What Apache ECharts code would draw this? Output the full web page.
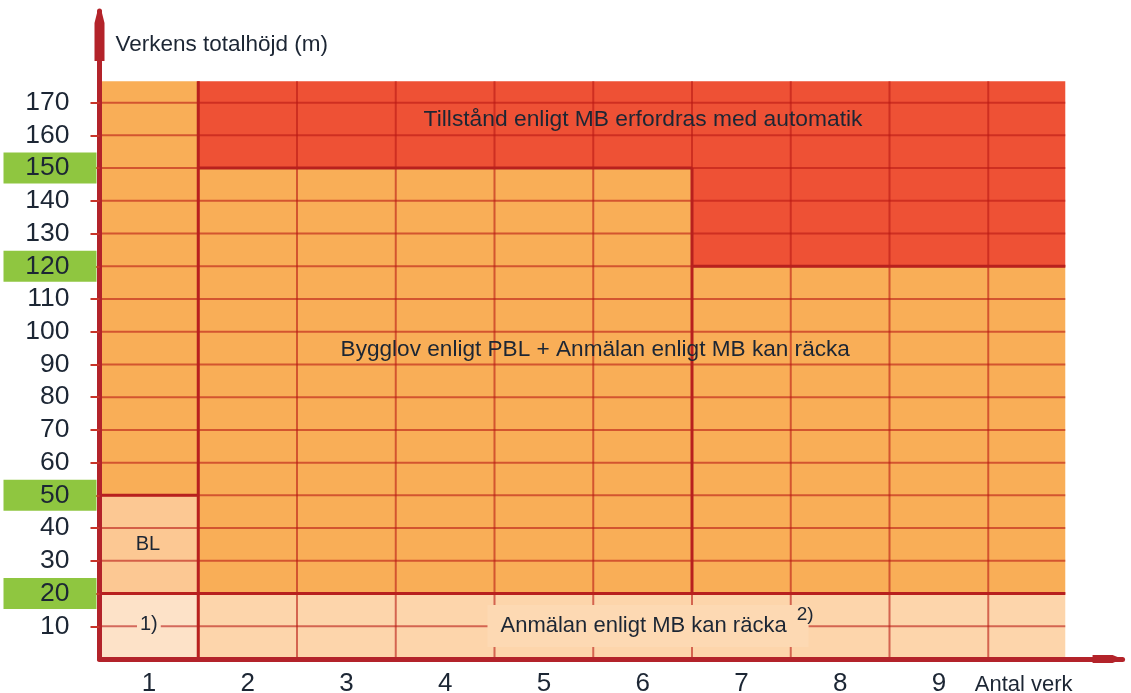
<!DOCTYPE html>
<html><head><meta charset="utf-8">
<script src="https://cdn.jsdelivr.net/npm/echarts@6/dist/echarts.min.js"></script>
<style>html,body{margin:0;padding:0;background:#fff}#c{width:1131px;height:693px}</style>
</head><body><div id="c"></div>
<script>
// ---- data ----
const columnLabels = ['1', '2', '3', '4', '5', '6', '7', '8', '9'];
const columnCenters = [0.5, 1.5, 2.5, 3.5, 4.5, 5.5, 6.5, 7.5, 8.5];
const columnEdges = [1, 2, 3, 4, 5, 6, 7, 8, 9];
const heightTicks = [10, 20, 30, 40, 50, 60, 70, 80, 90, 100, 110, 120, 130, 140, 150, 160, 170];
const highlightedHeights = [20, 50, 120, 150];
const lastColumnEnd = 9.78;
const topHeight = 176.5;

// zones (rectangles in chart units)
const zoneNames = ['Anmälan (1 verk)', 'Anmälan', 'BL', 'Bygglov (1 verk)', 'Bygglov 2-6', 'Bygglov 7+', 'Tillstånd 2-6', 'Tillstånd 7+'];
const zoneX0 = [0, 1, 0, 0, 1, 6, 1, 6];
const zoneX1 = [1, lastColumnEnd, 1, 1, 6, lastColumnEnd, 6, lastColumnEnd];
const zoneY0 = [0, 0, 20, 50, 20, 20, 150, 120];
const zoneY1 = [20, 20, 50, topHeight, 150, 120, topHeight, topHeight];
const zoneKind = ['anmalan1', 'anmalan', 'bl', 'bygglov', 'bygglov', 'bygglov', 'tillstand', 'tillstand'];

// region boundaries (thick lines)
const boundX0 = [0, 0, 1, 6, 1, 6];
const boundX1 = [lastColumnEnd, 1, 6, lastColumnEnd, 1, 6];
const boundY0 = [20, 50, 150, 120, 0, 20];
const boundY1 = [20, 50, 150, 120, topHeight, 150];

const annotationTexts = ['Tillstånd enligt MB erfordras med automatik', 'Bygglov enligt PBL + Anmälan enligt MB kan räcka', 'BL', '1)', 'Anmälan enligt MB kan räcka', '2)'];
const yAxisTitle = 'Verkens totalhöjd (m)';
const xAxisTitle = 'Antal verk';

// ---- styles / layout ----
const FONT = '"Liberation Sans", Arial, Helvetica, sans-serif';
const TEXT = '#1c2634';
const AXIS = '#b3232a';
const zoneColors = { anmalan1: '#fde2c8', anmalan: '#fdd5ab', bl: '#fcc893', bygglov: '#f9ae57', tillstand: '#ee5135' };
const annotationLayout = [
  { x: 5.504, y: 164.7, size: 22.8, align: 'center' },
  { x: 5.02, y: 94.4, size: 22.6, align: 'center' },
  { x: 0.49, y: 35.1, size: 20, align: 'center' },
  { x: 0.5, y: 10.4, size: 20, align: 'center', bg: '#fde2c8', pad: [1, 3, 1, 3] },
  { x: 5.555, y: 10.1, size: 22, align: 'center', bg: '#fdd9b3', pad: [10, 22, 10, 13] },
  { x: 7.06, y: 13.6, size: 19, align: 'left' }
];

const zoneData = zoneNames.map((n, i) => [zoneX0[i], zoneX1[i], zoneY0[i], zoneY1[i]]);
const gridData = [];
heightTicks.forEach(h => gridData.push([0, lastColumnEnd, h, h, 0]));
columnEdges.forEach(c => gridData.push([c, c, 0, topHeight, 0]));
boundX0.forEach((x, i) => gridData.push([x, boundX1[i], boundY0[i], boundY1[i], 1]));
const annData = annotationTexts.map((t, i) => [annotationLayout[i].x, annotationLayout[i].y]);

const chart = echarts.init(document.getElementById('c'));
chart.setOption({
  animation: false,
  backgroundColor: '#ffffff',
  grid: { left: 99.5, right: 8.45, top: 11, bottom: 34, containLabel: false, outerBoundsMode: 'none' },
  xAxis: {
    type: 'value', min: 0, max: 10.36, z: 10,
    name: xAxisTitle, nameLocation: 'end', nameGap: -50,
    nameTextStyle: { color: TEXT, fontFamily: FONT, fontSize: 22, align: 'right', verticalAlign: 'top', padding: [15, 0, 0, 0] },
    axisLine: { show: true, lineStyle: { color: AXIS, width: 5 },
      symbol: ['none', 'path://M4,0 L8,10 L8,30 L0,30 L0,10 Z'], symbolSize: [9, 30], symbolOffset: [0, -15] },
    axisTick: { show: false },
    splitLine: { show: false },
    axisLabel: { customValues: columnCenters, margin: 12, color: TEXT, fontFamily: FONT, fontSize: 26,
      formatter: v => columnLabels[Math.round(v - 0.5)] || '' }
  },
  yAxis: {
    type: 'value', min: 0, max: 198, z: 10,
    name: yAxisTitle, nameLocation: 'end', nameGap: -34,
    nameTextStyle: { color: TEXT, fontFamily: FONT, fontSize: 22.5, align: 'left', verticalAlign: 'middle', padding: [0, 0, 0, 16] },
    axisLine: { show: true, lineStyle: { color: AXIS, width: 5 },
      symbol: ['none', 'path://M3,0 L7,0 L10,12 L10,50 L0,50 L0,12 Z'], symbolSize: [10, 50], symbolOffset: [0, -25] },
    axisTick: { show: true, customValues: heightTicks, length: 9, lineStyle: { color: '#c8352a', width: 2 } },
    splitLine: { show: false },
    axisLabel: {
      customValues: heightTicks, margin: 3,
      formatter: v => (highlightedHeights.indexOf(v) >= 0 ? '{g|' : '{n|') + v + '}',
      rich: {
        g: { width: 66, height: 31, lineHeight: 31, align: 'right', padding: [0, 27, 0, 0], backgroundColor: '#8fc640', color: TEXT, fontFamily: FONT, fontSize: 26.5 },
        n: { width: 66, height: 31, lineHeight: 31, align: 'right', padding: [0, 27, 0, 0], color: TEXT, fontFamily: FONT, fontSize: 26.5 }
      }
    }
  },
  series: [
    {
      type: 'custom', name: 'zones', z: 2, silent: true,
      encode: { x: [0, 1], y: [2, 3] },
      data: zoneData,
      renderItem(params, api) {
        const i = params.dataIndex;
        const p0 = api.coord([api.value(0), api.value(3)]);
        const p1 = api.coord([api.value(1), api.value(2)]);
        return { type: 'rect', shape: { x: p0[0], y: p0[1], width: p1[0] - p0[0], height: p1[1] - p0[1] },
          style: { fill: zoneColors[zoneKind[i]] } };
      }
    },
    {
      type: 'custom', name: 'lines', z: 3, silent: true,
      encode: { x: [0, 1], y: [2, 3] },
      data: gridData,
      renderItem(params, api) {
        const p0 = api.coord([api.value(0), api.value(2)]);
        const p1 = api.coord([api.value(1), api.value(3)]);
        const thick = api.value(4) === 1;
        return { type: 'line', shape: { x1: p0[0], y1: p0[1], x2: p1[0], y2: p1[1] },
          style: { stroke: thick ? '#b8201e' : 'rgba(185,25,20,0.6)', lineWidth: thick ? 3 : 2 } };
      }
    },
    {
      type: 'custom', name: 'labels', z: 4, silent: true,
      encode: { x: 0, y: 1 },
      data: annData,
      renderItem(params, api) {
        const i = params.dataIndex;
        const a = annotationLayout[i];
        const p = api.coord([api.value(0), api.value(1)]);
        const style = { text: annotationTexts[i], fill: TEXT, fontFamily: FONT, fontSize: a.size,
          align: a.align, verticalAlign: 'middle' };
        if (a.bg) { style.backgroundColor = a.bg; style.padding = a.pad; }
        return { type: 'text', x: p[0], y: p[1], style: style };
      }
    }
  ]
});
</script></body></html>
